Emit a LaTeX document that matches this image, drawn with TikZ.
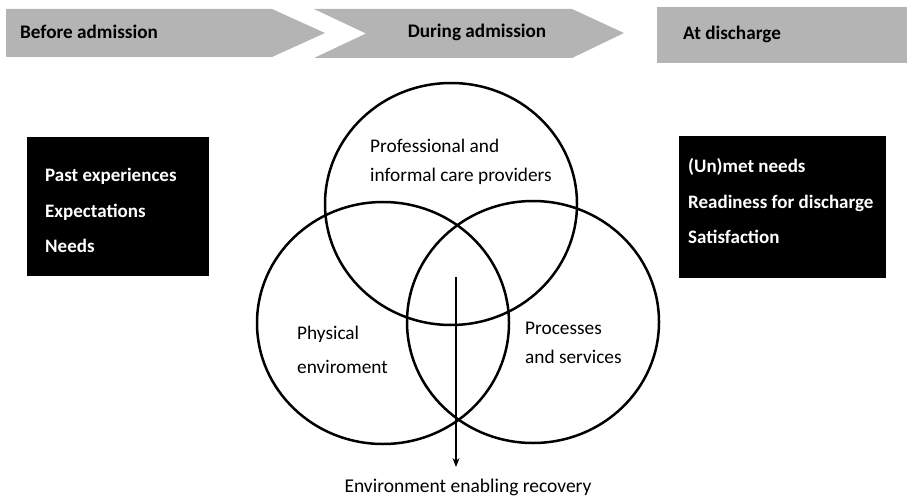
\documentclass[tikz,border=0pt]{standalone}
\usepackage{fontspec}
\setmainfont{Carlito}
\usepackage{tikz}
\usetikzlibrary{arrows.meta}
\definecolor{stagegray}{RGB}{180,180,180}
\tikzset{
	stagelabel/.style={font=\fontsize{19.2}{22}\selectfont\bfseries, inner sep=0pt},
	blackbox/.style={fill=black, inner sep=0pt},
	boxtext/.style={text=white, align=flush left, anchor=west, inner sep=0pt,
		font=\fontsize{19}{35.5}\selectfont\bfseries},
	ringlabel/.style={font=\fontsize{19.3}{29}\selectfont, align=left, anchor=west, inner sep=0pt},
	ring/.style={line width=2.5pt},
	flow/.style={line width=1.3pt, -{Stealth[length=9pt,width=7pt]}}
}

\begin{document}
\begin{tikzpicture}[x=1pt,y=-1pt]
		%%%%% START %%%%%
		\useasboundingbox (0,0) rectangle (907,497);
		
		% stages along the top
		\fill[stagegray] (6,9) -- (272,9) -- (325,33) -- (272,57) -- (6,57) -- cycle;
		\fill[stagegray] (314,9) -- (572,9) -- (624,33) -- (572,58) -- (314,58) -- (366,33.5) -- cycle;
		\fill[stagegray] (657,7) rectangle (907,63);
		\node[stagelabel, anchor=west] (before) at (20,32) {Before admission};
		\node[stagelabel] (during) at (477,32) {During admission};
		\node[stagelabel, anchor=west] (discharge) at (683,34) {At discharge};
		
		% boxes left and right
		\node[blackbox, minimum width=182pt, minimum height=139pt] (pre) at (118,206.5) {};
		\node[blackbox, minimum width=207pt, minimum height=142pt] (post) at (782.5,207) {};
		\node[boxtext] (pretext) at (45,210.5) {Past experiences\\Expectations\\Needs};
		\node[boxtext] (posttext) at (688,201.5) {(Un)met needs\\Readiness for discharge\\Satisfaction};
		
		% three rings
		\draw[ring] (451,204) ellipse [x radius=126, y radius=121];
		\draw[ring] (383,323) ellipse [x radius=126, y radius=121];
		\draw[ring] (533,322) ellipse [x radius=126, y radius=121];
		
		\node[ringlabel] (providers) at (370,162) {Professional and\\informal care providers};
		\node[ringlabel] (physical) at (297,350) {Physical\\[5pt]enviroment};
		\node[ringlabel] (processes) at (525,343) {Processes\\and services};
		
		% result
		\coordinate (flowtop) at (456,277);
		\node[font=\fontsize{19.5}{22}\selectfont, inner sep=0pt] (recovery) at (468,487) {Environment enabling recovery};
		\coordinate (flowend) at (456,467);
		\draw[flow] (flowtop) -- (flowend);
		%%%%% END %%%%%
\end{tikzpicture}
\end{document}
